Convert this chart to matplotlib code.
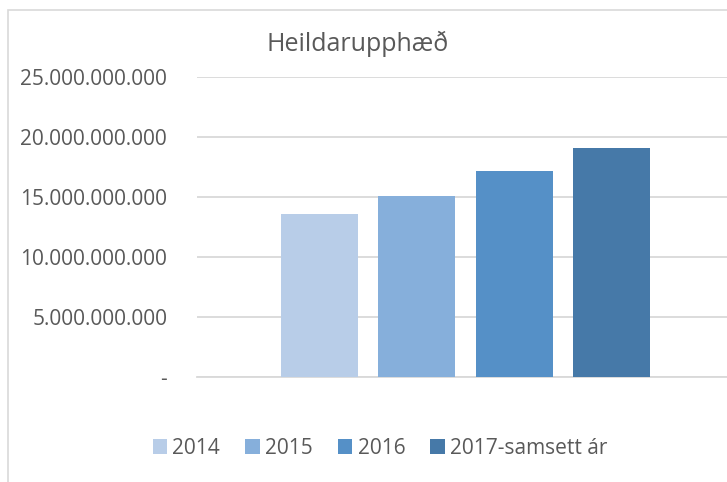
# Heildarupphæð - bar chart per year

import matplotlib.pyplot as plt
from matplotlib.patches import Rectangle
from matplotlib.ticker import FuncFormatter

series = ['2014', '2015', '2016', '2017-samsett ár']
values = [13.58e9, 15.08e9, 17.17e9, 19.08e9]
colors = ['#B8CDE8', '#86AFDB', '#5590C7', '#4679A8']
yticks = [0, 5e9, 10e9, 15e9, 20e9, 25e9]

plt.rcParams['font.family'] = ['Open Sans', 'DejaVu Sans']
text_color = '#595959'
grid_color = '#D9D9D9'


def isk_format(v, pos):
    if v == 0:
        return '-'
    return f'{v:,.0f}'.replace(',', '.')


fig = plt.figure(figsize=(7.27, 4.82), dpi=100)

# chart border (cropped on right and bottom like the source)
fig.patches.append(Rectangle((8 / 727, -0.1), 1.2, 1 - 10 / 482 + 0.1,
                             transform=fig.transFigure, fill=False,
                             edgecolor=grid_color, linewidth=1.2))

ax = fig.add_axes([197 / 727, 1 - 377 / 482, 537 / 727, 300 / 482])

width = 77 / 537
step = 97.5 / 537
for i, (name, val, col) in enumerate(zip(series, values, colors)):
    ax.bar((i - 1.5) * step, val, width=width, color=col, label=name, zorder=3)

ax.set_xlim(-0.5, 0.5)
ax.set_ylim(0, 25e9)
ax.set_yticks(yticks)
ax.yaxis.set_major_formatter(FuncFormatter(isk_format))
ax.set_xticks([])
ax.grid(axis='y', color=grid_color, linewidth=1.3, zorder=0)
ax.set_axisbelow(True)
for s in ['top', 'right', 'left']:
    ax.spines[s].set_visible(False)
ax.spines['bottom'].set_color(grid_color)
ax.spines['bottom'].set_linewidth(1.3)
ax.tick_params(axis='y', length=0, pad=21.5, labelsize=15, labelcolor=text_color)
ax.patch.set_alpha(0)

fig.text(358 / 727, 1 - 44 / 482, 'Heildarupphæð', ha='center', va='center',
         fontsize=18, color=text_color)

handles, labels = ax.get_legend_handles_labels()
fig.legend(handles, labels, loc='center', bbox_to_anchor=(380 / 727, 1 - 448 / 482),
           ncol=4, frameon=False, fontsize=15, labelcolor=text_color,
           handlelength=0.7, handleheight=0.7, handletextpad=0.25,
           columnspacing=1.2)

fig.savefig('out.png', dpi=100)
